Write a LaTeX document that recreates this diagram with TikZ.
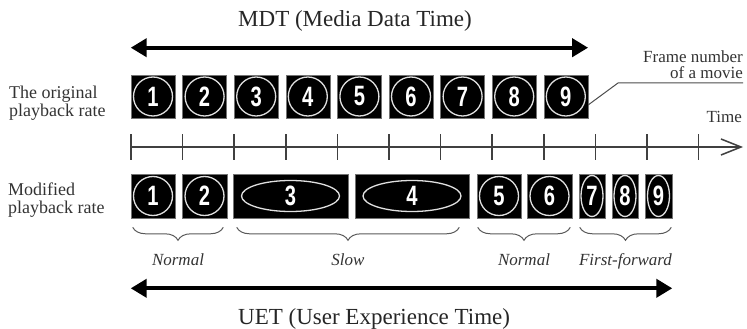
\documentclass[tikz,border=0pt]{standalone}
\usepackage{graphicx}
\usepackage{fontspec}
\setmainfont{Liberation Serif}
\newfontfamily\digitfont{Liberation Sans}
\usetikzlibrary{arrows.meta,decorations.pathreplacing}

\tikzset{
  cell/.style={fill=black, draw=black!55, line width=0.6pt, inner sep=0pt, minimum height=43pt},
  ring/.style={draw=black!12, line width=1.3pt},
  num/.style={text=white, inner sep=0pt, font=\digitfont\bfseries\fontsize{28}{28}\selectfont},
  lbl/.style={font=\fontsize{18}{18}\selectfont, text=black!80, inner sep=0pt},
  rate/.style={font=\itshape\fontsize{17}{18}\selectfont, text=black!80, inner sep=0pt},
  title/.style={font=\fontsize{23}{25}\selectfont, text=black!85, inner sep=0pt},
  bigarrow/.style={{Triangle[length=16pt,width=18pt]}-{Triangle[length=16pt,width=18pt]}, line width=4pt},
  brc/.style={decorate, decoration={brace, mirror, amplitude=13pt}, draw=black!65, line width=1pt}
}

\begin{document}
\begin{tikzpicture}[x=1pt,y=-1pt]
\useasboundingbox (0,0) rectangle (747,329);

\node[title, anchor=base west] (mdt) at (238,27) {MDT (Media Data Time)};
\node[lbl, anchor=base west, align=left] (orig) at (9,116) {The original\\playback rate};
\node[lbl, anchor=base west, align=left] (modi) at (8,213) {Modified\\playback rate};

% original frames
\foreach \i in {1,...,9} {
  \node[cell, minimum width=44pt] (o\i) at ({153+(\i-1)*51.6},96.5) {};
  \draw[ring] (o\i) circle[radius=19.5pt];
  \node[num] at (o\i) {\scalebox{0.72}[1]{\i}};
}
\draw[bigarrow] ([yshift=27pt]o1.north west) -- ([yshift=27pt]o9.north east);

\node[lbl, font=\fontsize{17}{16}\selectfont, anchor=base east, align=right] (fnum) at (743,78) {Frame number\\of a movie};
\coordinate (bend) at (618,83);
\coordinate (fend) at (743,83);
\draw[black!70, line width=1pt] ([yshift=-8.5pt]o9.east) -- (bend) -- (fend);

% time axis
\node[lbl, font=\fontsize{17}{18}\selectfont, anchor=base east] (time) at (742,122) {Time};
\coordinate (t0) at (131,147);
\coordinate (tend) at (743,147);
\draw[black!75, line width=1.5pt, -{Straight Barb[length=20pt,width=16pt]}] (t0) -- (tend);
\foreach \k in {0,...,11}
  \draw[black!75, line width=1.5pt] ([xshift=\k*51.6pt]t0) ++(0,-13) -- ++(0,26);

% modified frames
\foreach \l/\r/\i/\rx/\ry in {131/175/1/19.5/19.5, 182/227/2/19.5/19.5, 233/348/3/49/15.5,
    355/469/4/49/15.5, 477/521/5/19.5/19.5, 527/572/6/19.5/19.5, 579/605/7/11/20.5,
    612/638/8/11/20.5, 645/672/9/11/20.5} {
  \node[cell, minimum width={(\r-\l)*1pt}, minimum height=44pt] (m\i) at ({(\l+\r)/2},196) {};
  \draw[ring] (m\i) ellipse[x radius=\rx pt, y radius=\ry pt];
  \node[num] at (m\i) {\scalebox{0.72}[1]{\i}};
}

\draw[brc] ([xshift=2pt,yshift=-9pt]m1.south west) -- ([xshift=-4pt,yshift=-9pt]m2.south east)
  node[rate, midway, anchor=base, yshift=-38pt] {Normal};
\draw[brc] ([xshift=4pt,yshift=-9pt]m3.south west) -- ([xshift=-10pt,yshift=-9pt]m4.south east)
  node[rate, midway, anchor=base, yshift=-38pt] {Slow};
\draw[brc] ([xshift=1pt,yshift=-9pt]m5.south west) -- ([xshift=-2pt,yshift=-9pt]m6.south east)
  node[rate, midway, anchor=base, yshift=-38pt] {Normal};
\draw[brc] ([xshift=1pt,yshift=-9pt]m7.south west) -- ([xshift=-1pt,yshift=-9pt]m9.south east)
  node[rate, midway, anchor=base, yshift=-38pt] {First-forward};

\draw[bigarrow] ([yshift=-70pt]m1.south west) -- ([yshift=-70pt]m9.south east);
\node[title, anchor=base west] (uet) at (238,324) {UET (User Experience Time)};
\end{tikzpicture}
\end{document}
